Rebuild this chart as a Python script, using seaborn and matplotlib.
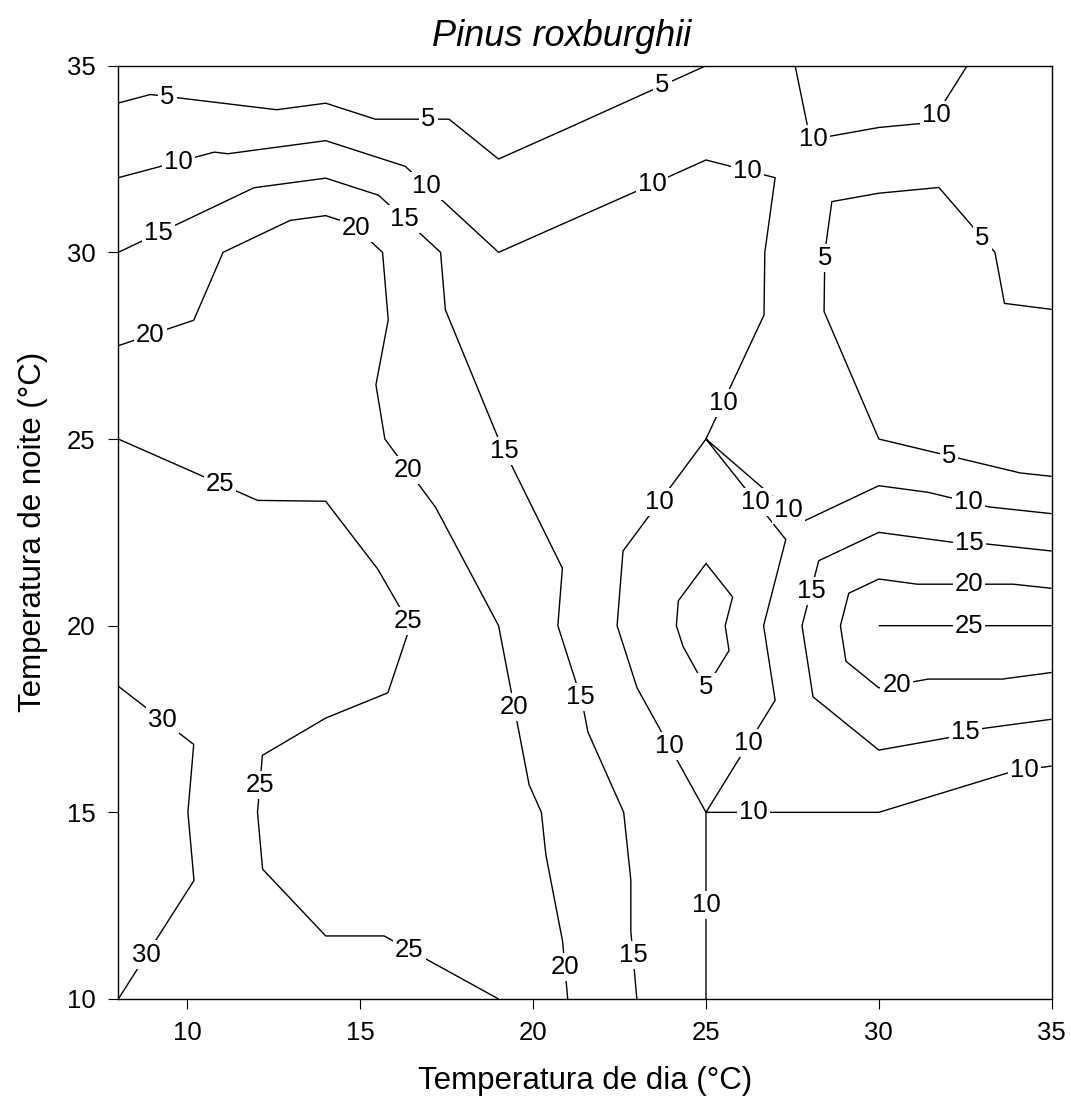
import numpy as np
import matplotlib
matplotlib.use("Agg")
import matplotlib.pyplot as plt
import matplotlib.tri as mtri
import seaborn as sns

# ---- data ----
day_temp = [8, 14, 19, 25, 30, 35]          # x nodes (°C)
night_temp = [10, 15, 20, 25, 30, 35]       # y nodes (°C)
z_night10 = [30.0, 27.5, 25.0, 10.0, 8.0, 7.0]
z_night15 = [35.0, 20.1, 22.6, 10.0, 10.0, 5.05]
z_night20 = [27.6, 29.8, 20.0, 2.5, 25.0, 25.0]
z_night25 = [25.0, 22.6, 15.0, 10.0, 5.0, 0.0]
z_night30 = [15.0, 24.9, 10.0, 14.9, 0.5, 7.2]
z_night35 = [2.5, 0.0, 0.0, 5.0, 14.7, 5.5]
levels = [5, 10, 15, 20, 25, 30]

# label anchor points (data coords)
label_pos = [
    (9.42, 34.16), (16.97, 33.52), (23.77, 34.4), (28.4, 29.85), (33.05, 30.44),
    (32.03, 24.57), (25.06, 18.33),
    (9.74, 32.42), (16.92, 31.78), (23.45, 31.8), (26.21, 32.2), (28.1, 33.09),
    (31.74, 33.63), (25.49, 25.97), (23.69, 23.29), (26.51, 23.37), (27.44, 23.15),
    (32.61, 23.37), (23.98, 16.8), (26.31, 16.8), (26.37, 15.0), (34.21, 16.08),
    (25.0, 12.52),
    (9.13, 30.55), (16.28, 30.92), (19.24, 24.71), (21.42, 18.09), (23.02, 11.18),
    (28.17, 20.9), (32.53, 17.07), (32.61, 22.24),
    (8.92, 27.79), (14.88, 30.65), (16.37, 24.17), (19.45, 17.82), (21.0, 10.86),
    (32.61, 21.14), (30.52, 18.41),
    (10.93, 23.77), (16.42, 20.15), (12.07, 15.73), (16.42, 11.31), (32.61, 20.0),
    (9.27, 17.47), (8.84, 11.18),
]

sns.set_theme(style="ticks")
plt.rcParams['font.family'] = ['Liberation Sans', 'DejaVu Sans']
plt.rcParams['text.color'] = 'black'
plt.rcParams['axes.labelcolor'] = 'black'
plt.rcParams['xtick.color'] = 'black'
plt.rcParams['ytick.color'] = 'black'

fig = plt.figure(figsize=(10.71, 11.10), dpi=100)
ax = fig.add_axes([118.3 / 1071, 1 - 999 / 1110, (1051.7 - 118.3) / 1071, (999 - 65.7) / 1110])

# mesh: each grid cell split in four triangles around its centre (SigmaPlot-style)
Z = np.array([z_night10, z_night15, z_night20, z_night25, z_night30, z_night35])
nx, ny = len(day_temp), len(night_temp)
xs, ys, zs = [], [], []
for j in range(ny):
    for i in range(nx):
        xs.append(day_temp[i]); ys.append(night_temp[j]); zs.append(Z[j, i])
tris = []
for j in range(ny - 1):
    for i in range(nx - 1):
        bl = j * nx + i; br = bl + 1; tl = bl + nx; tr = tl + 1
        c = len(xs)
        xs.append((day_temp[i] + day_temp[i + 1]) / 2)
        ys.append((night_temp[j] + night_temp[j + 1]) / 2)
        zs.append(Z[j:j + 2, i:i + 2].mean())
        tris += [[bl, br, c], [br, tr, c], [tr, tl, c], [tl, bl, c]]
tri = mtri.Triangulation(xs, ys, tris)

cs = ax.tricontour(tri, zs, levels=levels, colors='black', linewidths=1.0)
texts = ax.clabel(cs, manual=label_pos, inline=False, fmt='%d', fontsize=18.5)
for t in texts:
    t.set_rotation(0)
    t.set_color('black')
    t.set_bbox(dict(boxstyle='square,pad=0.08', fc='white', ec='none'))

ax.set_xlim(8, 35)
ax.set_ylim(10, 35)
ax.set_xticks([10, 15, 20, 25, 30, 35])
ax.set_yticks([10, 15, 20, 25, 30, 35])
ax.tick_params(direction='out', length=7.2, width=0.8, pad=9, labelsize=18.5,
               colors='black')
for s in ax.spines.values():
    s.set_visible(True)
    s.set_linewidth(1.0)
    s.set_color('black')
ax.set_facecolor('white')

ax.set_xlabel('Temperatura de dia (°C)', fontsize=22.5, labelpad=15, color='black')
ax.set_ylabel('Temperatura de noite (°C)', fontsize=22.5, labelpad=14, color='black')
ax.set_title('Pinus roxburghii', fontsize=26, style='italic', x=0.4753, pad=14,
             color='black')

fig.savefig('out.png', dpi=100, facecolor='white')
